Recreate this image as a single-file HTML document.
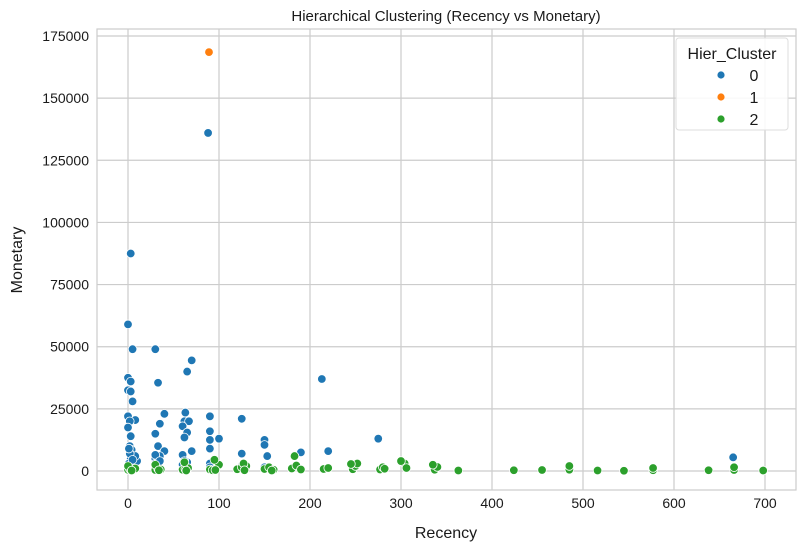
<!DOCTYPE html>
<html><head><meta charset="utf-8"><style>
body{margin:0;background:#fff;font-family:"Liberation Sans",sans-serif}
svg text{font-family:"Liberation Sans",sans-serif;fill:#1a1a1a}
</style></head><body>
<svg id="c" width="804" height="551"></svg>
<script>
const xTicks=[0,100,200,300,400,500,600,700];
const yTicks=[0,25000,50000,75000,100000,125000,150000,175000];
const clusterLabels=["0","1","2"];
const blueRecency=[3,0,5,30,70,65,213,0,3,33,0,3,5,0,63,40,90,125,8,2,35,62,67,60,0,90,30,3,65,62,100,275,150,90,150,2,33,4,40,70,190,220,125,90,35,153,60,3,30,665,1,5,30,60,90,0,30,63,10,90,125,150,88,8,2,33,65,1,30,5,35,62];
const blueMonetary=[87500,59000,49000,49000,44500,40000,37000,37500,36000,35500,32500,32000,28000,22000,23500,23000,22000,21000,20500,20000,19000,20000,20000,18000,17500,16000,15000,14000,15500,13500,13000,13000,12500,12500,10500,10000,10000,8500,8000,8000,7500,8000,7000,9000,6000,6000,6500,5000,5000,5500,3000,2500,3000,2500,3000,1500,1500,1000,4000,1500,2000,1500,136000,6000,7000,3500,3500,9000,6500,4500,4000,4000];
const orangeRecency=[89];
const orangeMonetary=[168500];
const greenRecency=[0,2,5,8,30,33,36,60,63,66,90,93,100,120,125,130,150,155,160,180,185,190,215,220,247,250,252,277,280,282,304,306,337,340,363,424,455,485,485,516,545,577,577,638,666,666,698,0,30,62,95,127,183,245,300,335,4,34,64,96,128,158];
const greenMonetary=[500,800,600,1000,400,900,600,500,800,1200,600,300,2500,700,1500,2000,800,1500,500,1000,2200,600,800,1200,700,2000,3000,600,1500,900,3000,1200,500,1600,200,300,400,500,2000,200,100,300,1200,300,400,1500,200,2000,2500,3500,4500,3000,6000,2800,4000,2500,200,300,200,400,300,200];
const svg=document.getElementById('c'),NS='http://www.w3.org/2000/svg';
const L=97,R=796,T=29,B=490;
const X=v=>128+v*(765-128)/700;
const Y=v=>471-v*(471-36)/175000;
function mk(t,a,p){const e=document.createElementNS(NS,t);for(const k in a)e.setAttribute(k,a[k]);(p||svg).appendChild(e);return e;}
let g=mk('g',{});


mk('rect',{x:L,y:T,width:R-L,height:B-T,fill:'#fff',stroke:'#ccc','stroke-width':1.2},g);
xTicks.forEach(t=>{
  const l=mk('line',{x1:X(t),x2:X(t),y1:T,y2:B,stroke:'#ccc','stroke-width':1.2},g);
  
  
  const tx=mk('text',{x:X(t),y:B+18,'font-size':14,'text-anchor':'middle'});tx.textContent=t;
  
  
});
yTicks.forEach(t=>{
  const l=mk('line',{x1:L,x2:R,y1:Y(t),y2:Y(t),stroke:'#ccc','stroke-width':1.2},g);
  
  
  const tx=mk('text',{x:L-8,y:Y(t)+5,'font-size':14,'text-anchor':'end'});tx.textContent=t;
  
  
});
const cols=['#1f77b4','#ff7f0e','#2ca02c'];
function pts(rs,ms,c,name){rs.forEach((r,i)=>{
  const p=mk('circle',{cx:X(r),cy:Y(ms[i]),r:4.3,fill:c,stroke:'#fff','stroke-width':0.8});
  
  
});}
pts(blueRecency,blueMonetary,cols[0],'point-cluster-0');
pts(orangeRecency,orangeMonetary,cols[1],'point-cluster-1');
pts(greenRecency,greenMonetary,cols[2],'point-cluster-2');
let t=mk('text',{x:446,y:21,'font-size':15,'text-anchor':'middle'});t.textContent='Hierarchical Clustering (Recency vs Monetary)';

t=mk('text',{x:446,y:538,'font-size':16,'text-anchor':'middle'});t.textContent='Recency';

t=mk('text',{x:22,y:260,'font-size':16,'text-anchor':'middle',transform:'rotate(-90 22 260)'});t.textContent='Monetary';

const lg=mk('g',{});


mk('rect',{x:676,y:38,width:112,height:92,rx:3,fill:'#fff','fill-opacity':0.85,stroke:'#ddd'},lg);
t=mk('text',{x:732,y:59,'font-size':16,'text-anchor':'middle'},lg);t.textContent='Hier_Cluster';
clusterLabels.forEach((s,i)=>{
  const y=75+i*22;
  const e=mk('g',{},lg);
  
  
  mk('circle',{cx:721,cy:y,r:3.6,fill:cols[i]},e);
  const tt=mk('text',{x:754,y:y+6,'font-size':16,'text-anchor':'middle'},e);tt.textContent=s;
});
</script>
</body></html>
